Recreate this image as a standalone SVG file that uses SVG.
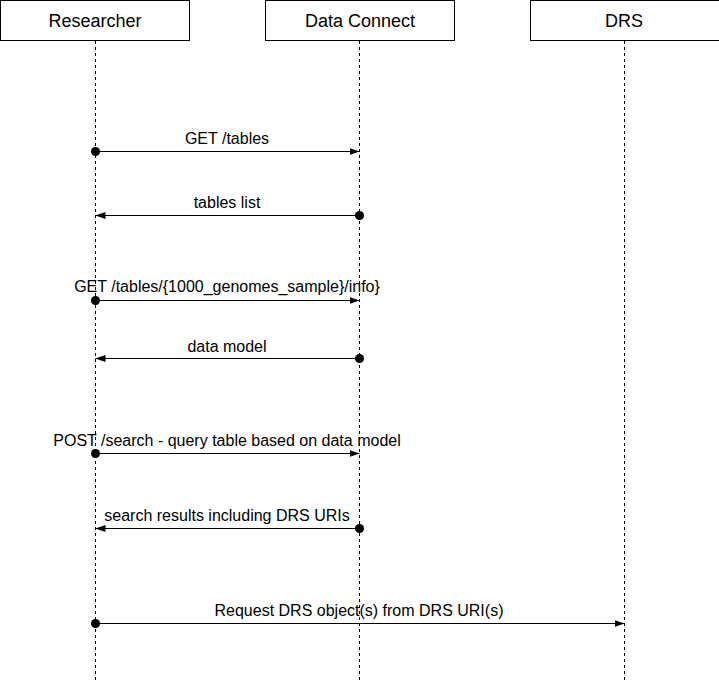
<svg xmlns="http://www.w3.org/2000/svg" width="719" height="681" viewBox="0 0 719 681">
<style>
.box{fill:#fff;stroke:#000;stroke-width:1}
.life{stroke:#000;stroke-width:1;stroke-dasharray:3,3;fill:none}
.msg{stroke:#000;stroke-width:1;fill:none;marker-end:url(#arr);marker-start:url(#dot)}
.t{font-family:"Liberation Sans",Arial,Helvetica,sans-serif;fill:#000;text-anchor:middle}
.bt{font-size:18px}
.lt{font-size:16px}
</style>
<defs>
<marker id="arr" viewBox="0 0 10 10" refX="10" refY="5" markerWidth="10" markerHeight="10" markerUnits="userSpaceOnUse" orient="auto">
<path d="M0,1.5 L10,5 L0,8.5 Z" fill="#000"/>
</marker>
<marker id="dot" viewBox="0 0 10 10" refX="5" refY="5" markerWidth="9" markerHeight="9" markerUnits="userSpaceOnUse" orient="auto">
<circle cx="5" cy="5" r="5" fill="#000"/>
</marker>
</defs>
<g id="researcher">
<rect class="box" x="0.5" y="0.5" width="189" height="40"/>
<text class="t bt" x="95" y="27">Researcher</text>
<line class="life" x1="95.5" y1="41" x2="95.5" y2="681"/>
</g>
<g id="dataconnect">
<rect class="box" x="265.5" y="0.5" width="189" height="40"/>
<text class="t bt" x="360" y="27">Data Connect</text>
<line class="life" x1="359.5" y1="41" x2="359.5" y2="681"/>
</g>
<g id="drs">
<rect class="box" x="530.5" y="0.5" width="189" height="40"/>
<text class="t bt" x="624" y="27">DRS</text>
<line class="life" x1="624.5" y1="41" x2="624.5" y2="681"/>
</g>
<g id="connectors">
<line class="msg" x1="95.5" y1="151.5" x2="359.5" y2="151.5"/>
<line class="msg" x1="359.5" y1="215.5" x2="95.5" y2="215.5"/>
<line class="msg" x1="95.5" y1="300.5" x2="359.5" y2="300.5"/>
<line class="msg" x1="359.5" y1="358.5" x2="95.5" y2="358.5"/>
<line class="msg" x1="95.5" y1="453.5" x2="359.5" y2="453.5"/>
<line class="msg" x1="359.5" y1="528.5" x2="95.5" y2="528.5"/>
<line class="msg" x1="95.5" y1="623.5" x2="624.5" y2="623.5"/>
</g>
<g id="labels">
<text class="t lt" x="227" y="144">GET /tables</text>
<text class="t lt" x="227" y="208">tables list</text>
<text class="t lt" x="227" y="292">GET /tables/{1000_genomes_sample}/info}</text>
<text class="t lt" x="227" y="352">data model</text>
<text class="t lt" x="227" y="446">POST /search - query table based on data model</text>
<text class="t lt" x="227" y="521">search results including DRS URIs</text>
<text class="t lt" x="359" y="616">Request DRS object(s) from DRS URI(s)</text>
</g>
</svg>
